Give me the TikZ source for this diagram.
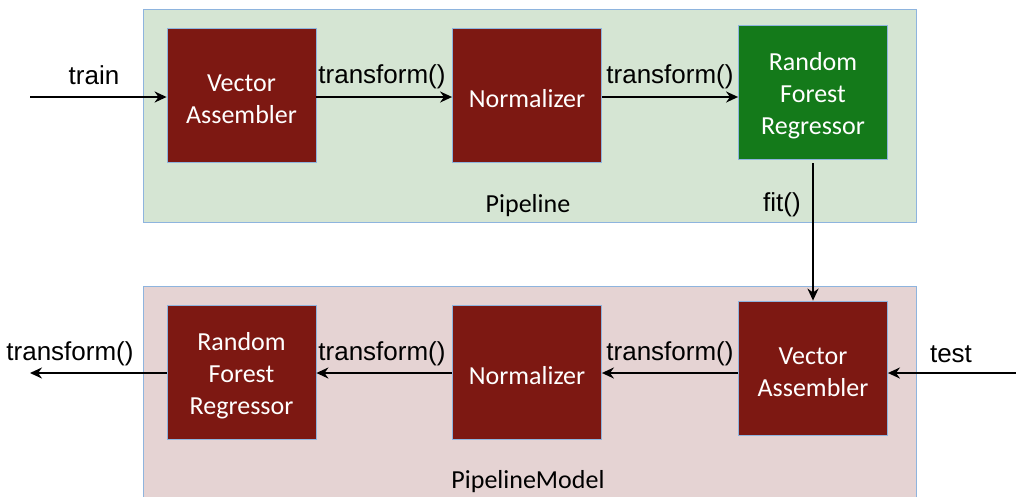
\documentclass[tikz,border=0pt]{standalone}
\usepackage{fontspec}
\setmainfont{Liberation Sans}
\newfontfamily\boxfont{Carlito}
\usetikzlibrary{arrows.meta}
\definecolor{redbox}{RGB}{125,24,18}
\definecolor{greenbox}{RGB}{20,122,26}
\definecolor{topfill}{RGB}{213,229,211}
\definecolor{botfill}{RGB}{229,211,211}
\definecolor{frame}{RGB}{142,180,222}
\tikzset{
  stage/.style={draw=frame, line width=0.8pt, minimum width=149pt, minimum height=134pt, inner sep=0pt},
  stagetext/.style={font=\boxfont\fontsize{26}{32}\selectfont, text=white, align=center, inner sep=0pt, yshift=-4pt},
  container/.style={draw=frame, line width=1pt},
  flow/.style={line width=2.8pt, -{Stealth[length=12pt,width=11pt]}},
  lbl/.style={font=\fontsize{26}{30}\selectfont, inner sep=0pt},
  title/.style={font=\boxfont\fontsize{26}{30}\selectfont, inner sep=0pt},
}
\begin{document}
\begin{tikzpicture}[x=1pt,y=-1pt]
\useasboundingbox (0,0) rectangle (1016,496);
% containers
\draw[container, fill=topfill] (143,9) rectangle (916,222);
\draw[container, fill=botfill] (143,286) rectangle (916,500);
% top row
\node[stage, fill=redbox, label={[stagetext]center:{Vector\\Assembler}}] (va1) at (241.5,95) {};
\node[stage, fill=redbox, label={[stagetext]center:{Normalizer}}] (no1) at (527,95) {};
\node[stage, fill=greenbox, label={[stagetext]center:{Random\\Forest\\Regressor}}] (rf1) at (813,92) {};
% bottom row
\node[stage, fill=redbox, label={[stagetext]center:{Random\\Forest\\Regressor}}] (rf2) at (241.5,372) {};
\node[stage, fill=redbox, label={[stagetext]center:{Normalizer}}] (no2) at (527,372) {};
\node[stage, fill=redbox, label={[stagetext]center:{Vector\\Assembler}}] (va2) at (813,368) {};
% free ends
\coordinate (trainin) at (30,97);
\coordinate (testin) at (1016,373);
\coordinate (outend) at (30,373);
% top arrows
\draw[flow] (trainin) -- (trainin -| va1.west);
\draw[flow] (va1.east |- 0,97) -- (no1.west |- 0,97);
\draw[flow] (no1.east |- 0,97) -- (rf1.west |- 0,97);
\draw[flow] ([yshift=-4pt]rf1.south) -- (va2.north);
% bottom arrows
\draw[flow] (testin) -- (testin -| va2.east);
\draw[flow] (va2.west |- 0,373) -- (no2.east |- 0,373);
\draw[flow] (no2.west |- 0,373) -- (rf2.east |- 0,373);
\draw[flow] (rf2.west |- 0,373) -- (outend);
% labels
\node[lbl] (ltrain) at (94,75) {train};
\node[lbl] (lt1) at (382,77) {transform()};
\node[lbl] (lt2) at (670,77) {transform()};
\node[lbl] (lfit) at (782,205) {fit()};
\node[title] (lpipe) at (528,206) {Pipeline};
\node[lbl] (ltest) at (951,354) {test};
\node[lbl] (lt3) at (670,354) {transform()};
\node[lbl] (lt4) at (382,354) {transform()};
\node[lbl] (lt5) at (70,354) {transform()};
\node[title] (lmodel) at (528,482) {PipelineModel};
\end{tikzpicture}
\end{document}
